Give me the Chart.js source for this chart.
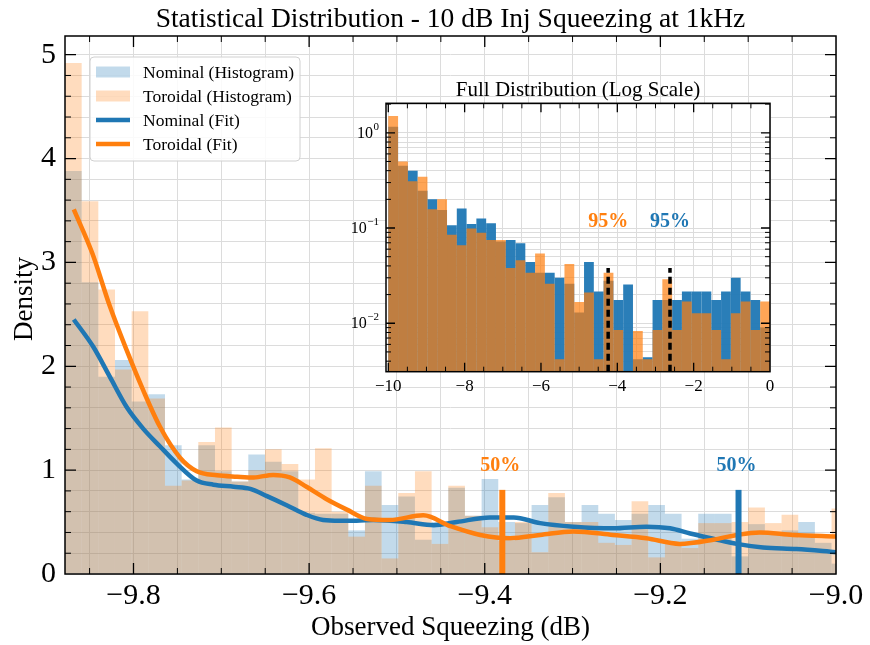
<!DOCTYPE html>
<html><head><meta charset="utf-8">
<script src="https://cdn.jsdelivr.net/npm/chart.js@4.4.1/dist/chart.umd.min.js"></script>
<style>
html,body{margin:0;padding:0;background:#fff;}
#wrap{position:relative;width:870px;height:645px;overflow:hidden;}
#main{position:absolute;left:0;top:0;}
#inset{position:absolute;left:330px;top:70px;}
</style></head><body>
<div id="wrap">
<canvas id="main" width="870" height="645"></canvas>
<canvas id="inset" width="460" height="330"></canvas>
</div>
<script>
const FONT = '"Liberation Serif", "DejaVu Serif", serif';
const BLUE = '#1f77b4', ORANGE = '#ff7f0e';

// ---------- main (zoomed) panel ----------
const mainBinStart = -9.878;
const mainBinWidth = 0.018977;
const nominalHist = [3.88, 2.81, 1.90, 2.06, 1.66, 1.73, 1.24, 0.91, 1.24, 0.99,
  0.89, 1.15, 1.08, 0.99, 0.59, 0.58, 0.58, 0.42, 0.99, 0.665,
  0.745, 0.33, 0.50, 0.83, 0.56, 0.915, 0.50, 0.49, 0.665, 0.74,
  0.50, 0.665, 0.58, 0.52, 0.58, 0.665, 0.58, 0.34, 0.58, 0.58,
  0.17, 0.48, 0.38, 0.42, 0.50, 0.30, 0.10];
const toroidalHist = [4.92, 3.59, 2.74, 1.97, 2.53, 1.69, 0.85, 0.90, 1.27, 1.41,
  0.89, 1.00, 1.20, 1.06, 0.91, 1.21, 0.60, 0.36, 0.85, 0.15,
  0.78, 0.99, 0.29, 0.85, 0.56, 0.45, 0.32, 0.50, 0.21, 0.78,
  0.50, 0.50, 0.30, 0.28, 0.70, 0.16, 0.30, 0.25, 0.49, 0.49,
  0.50, 0.64, 0.49, 0.57, 0.35, 0.345, 0.63];

const nominalFitX = [-9.868, -9.846, -9.827, -9.808, -9.789, -9.770, -9.751, -9.728, -9.709, -9.686,
  -9.667, -9.648, -9.625, -9.603, -9.584, -9.565, -9.546, -9.527, -9.489, -9.458,
  -9.432, -9.394, -9.367, -9.337, -9.299, -9.254, -9.216, -9.189, -9.166, -9.140,
  -9.113, -9.083, -9.045, -9.0];
const nominalFitY = [2.45, 2.19, 1.90, 1.61, 1.40, 1.23, 1.066, 0.90, 0.86, 0.84,
  0.82, 0.75, 0.66, 0.57, 0.52, 0.513, 0.513, 0.52, 0.50, 0.47,
  0.50, 0.545, 0.545, 0.49, 0.456, 0.44, 0.456, 0.44, 0.39, 0.34,
  0.29, 0.255, 0.24, 0.21];
const toroidalFitX = [-9.868, -9.847, -9.827, -9.808, -9.789, -9.770, -9.747, -9.728, -9.705, -9.682,
  -9.663, -9.641, -9.622, -9.603, -9.580, -9.557, -9.534, -9.508, -9.470, -9.439,
  -9.405, -9.371, -9.337, -9.299, -9.254, -9.216, -9.178, -9.140, -9.113, -9.087,
  -9.049, -9.0];
const toroidalFitY = [3.51, 3.09, 2.58, 2.16, 1.77, 1.42, 1.12, 0.99, 0.95, 0.937,
  0.93, 0.954, 0.93, 0.84, 0.72, 0.62, 0.53, 0.52, 0.565, 0.46,
  0.376, 0.344, 0.376, 0.41, 0.376, 0.344, 0.29, 0.33, 0.376, 0.40,
  0.376, 0.36];

const median50 = { nominal: -9.111, toroidal: -9.380 };
const median50Top = 0.81;
const mainXRange = [-9.878, -9.0];
const mainYRange = [0, 5.18];

// ---------- inset (full distribution, log) ----------
const insetBinStart = -10;
const insetBinWidth = 10 / 39;
const nominalLogHist = [1.16, 0.45, 0.40, 0.246, 0.20, 0.155, 0.107, 0.16, 0.11, 0.126,
  0.112, 0.072, 0.075, 0.069, 0.044, 0.034, 0.034, 0.030, 0.026, 0.013,
  0.044, 0.0215, 0.028, 0.0176, 0.0256, 0.0042, 0.0044, 0.0176, 0.0176, 0.0176,
  0.0215, 0.0215, 0.0215, 0.0176, 0.0215, 0.030, 0.0215, 0.0176, 0.009];
const toroidalLogHist = [1.50, 0.50, 0.31, 0.345, 0.157, 0.20, 0.085, 0.066, 0.099, 0.089,
  0.075, 0.075, 0.038, 0.046, 0.034, 0.054, 0.026, 0.0042, 0.042, 0.0167,
  0.021, 0.0042, 0.034, 0.0085, null, 0.0083, 0.0042, 0.0085, 0.029, 0.0085,
  0.0169, 0.0127, 0.0127, 0.0085, 0.0042, 0.0127, 0.0169, 0.0085, 0.0169];
const p95 = { nominal: -2.62, toroidal: -4.24 };
const p95Top = 0.038;
const p95LabelY = 0.115;
const insetXRange = [-10.06, 0];
const insetYRange = [0.0031, 2.04];
const insetDecades = [0, -1, -2];

// ---------- helpers ----------
const isMult = (v, s) => Math.abs(v / s - Math.round(v / s)) < 1e-6;
const fmtNum = (v, d) => (v < -1e-9 ? '\u2212' : '') + Math.abs(v).toFixed(d);
const insetLogTicks = [];
[-3, -2, -1, 0].forEach(e => { for (let s = 1; s <= 9; s++) { const v = +(s * Math.pow(10, e)).toPrecision(3); if (v > insetYRange[0] && v < insetYRange[1]) insetLogTicks.push(v); } });

Chart.defaults.font.family = FONT;
Chart.defaults.color = '#000';

function tickFramePlugin(o) {
  return {
    id: 'tickFrame',
    afterDatasetsDraw(chart) {
      const { ctx, chartArea: a, scales } = chart;
      ctx.save();
      ctx.strokeStyle = '#000';
      scales.x.ticks.forEach(t => {
        const p = scales.x.getPixelForValue(t.value);
        if (p < a.left + 0.5 || p > a.right - 0.5) return;
        const mj = o.majorX(t.value);
        const L = mj ? o.major : o.minor;
        ctx.lineWidth = mj ? 1.3 : 1;
        ctx.beginPath();
        ctx.moveTo(p, a.bottom); ctx.lineTo(p, a.bottom - L);
        ctx.moveTo(p, a.top); ctx.lineTo(p, a.top + L);
        ctx.stroke();
      });
      scales.y.ticks.forEach(t => {
        const p = scales.y.getPixelForValue(t.value);
        if (p < a.top + 0.5 || p > a.bottom - 0.5) return;
        const mj = o.majorY(t.value);
        const L = mj ? o.major : o.minor;
        ctx.lineWidth = mj ? 1.3 : 1;
        ctx.beginPath();
        ctx.moveTo(a.left, p); ctx.lineTo(a.left + L, p);
        ctx.moveTo(a.right, p); ctx.lineTo(a.right - L, p);
        ctx.stroke();
      });
      ctx.lineWidth = o.frame;
      ctx.strokeRect(a.left, a.top, a.right - a.left, a.bottom - a.top);
      ctx.restore();
    }
  };
}

// ---------- main chart ----------
const mainCenters = nominalHist.map((_, i) => mainBinStart + (i + 0.5) * mainBinWidth);
const HIST_ALPHA = 0.27;
const mainDatasets = [
  { type: 'line', label: 'nominal50', data: [{ x: median50.nominal, y: 0 }, { x: median50.nominal, y: median50Top }],
    borderColor: BLUE, borderWidth: 6, pointRadius: 0, borderCapStyle: 'butt', order: 0 },
  { type: 'line', label: 'toroidal50', data: [{ x: median50.toroidal, y: 0 }, { x: median50.toroidal, y: median50Top }],
    borderColor: ORANGE, borderWidth: 6, pointRadius: 0, borderCapStyle: 'butt', order: 1 },
  { type: 'line', label: 'Toroidal (Fit)', legendKind: 'line', data: toroidalFitX.map((x, i) => ({ x, y: toroidalFitY[i] })),
    borderColor: ORANGE, borderWidth: 4.5, pointRadius: 0, cubicInterpolationMode: 'monotone', order: 2 },
  { type: 'line', label: 'Nominal (Fit)', legendKind: 'line', data: nominalFitX.map((x, i) => ({ x, y: nominalFitY[i] })),
    borderColor: BLUE, borderWidth: 4.5, pointRadius: 0, cubicInterpolationMode: 'monotone', order: 3 },
  { type: 'bar', label: 'Toroidal (Histogram)', legendKind: 'patch', data: mainCenters.map((x, i) => ({ x, y: toroidalHist[i] })),
    backgroundColor: `rgba(255,127,14,${HIST_ALPHA})`, order: 4 },
  { type: 'bar', label: 'Nominal (Histogram)', legendKind: 'patch', data: mainCenters.map((x, i) => ({ x, y: nominalHist[i] })),
    backgroundColor: `rgba(31,119,180,${HIST_ALPHA})`, order: 5 }
];
const legendOrder = ['Nominal (Histogram)', 'Toroidal (Histogram)', 'Nominal (Fit)', 'Toroidal (Fit)'];

const mainDecor = {
  id: 'mainDecor',
  afterDraw(chart) {
    const { ctx, chartArea: a, scales } = chart;
    ctx.save();
    ctx.fillStyle = '#000';
    ctx.font = `27.5px ${FONT}`;
    ctx.textAlign = 'center'; ctx.textBaseline = 'middle';
    ctx.fillText('Statistical Distribution - 10 dB Inj Squeezing at 1kHz', (a.left + a.right) / 2, 20);
    ctx.font = `27px ${FONT}`;
    ctx.fillText('Observed Squeezing (dB)', (a.left + a.right) / 2, 628);
    ctx.save();
    ctx.translate(25, (a.top + a.bottom) / 2 - 6);
    ctx.rotate(-Math.PI / 2);
    ctx.font = `27px ${FONT}`;
    ctx.fillText('Density', 0, 0);
    ctx.restore();
    ctx.font = `bold 20px ${FONT}`;
    ctx.textBaseline = 'alphabetic';
    const yLab = scales.y.getPixelForValue(median50Top) - 19;
    ctx.fillStyle = ORANGE;
    ctx.fillText('50%', scales.x.getPixelForValue(median50.toroidal) - 2, yLab);
    ctx.fillStyle = BLUE;
    ctx.fillText('50%', scales.x.getPixelForValue(median50.nominal) - 2, yLab);
    const lx = 90, ly = 57, lw = 210, lh = 104;
    ctx.beginPath();
    ctx.roundRect(lx, ly, lw, lh, 4);
    ctx.fillStyle = 'rgba(255,255,255,0.85)';
    ctx.fill();
    ctx.strokeStyle = '#d0d0d0'; ctx.lineWidth = 1;
    ctx.stroke();
    const dsByLabel = {};
    chart.data.datasets.forEach(d => { dsByLabel[d.label] = d; });
    ctx.font = `17.5px ${FONT}`;
    ctx.textAlign = 'left'; ctx.textBaseline = 'middle';
    legendOrder.forEach((lab, i) => {
      const d = dsByLabel[lab];
      const cy = 72 + i * 24;
      if (d.legendKind === 'patch') {
        ctx.fillStyle = d.backgroundColor;
        ctx.fillRect(96, cy - 5.5, 34, 11);
      } else {
        ctx.strokeStyle = d.borderColor; ctx.lineWidth = 4.5;
        ctx.beginPath(); ctx.moveTo(96, cy); ctx.lineTo(130, cy); ctx.stroke();
      }
      ctx.fillStyle = '#000';
      ctx.fillText(lab, 143, cy + 1);
    });
    ctx.restore();
  }
};

new Chart(document.getElementById('main'), {
  type: 'bar',
  data: { datasets: mainDatasets },
  options: {
    responsive: false, animation: false, devicePixelRatio: 1,
    layout: { padding: { left: 0, right: 34, top: 36, bottom: 0 } },
    datasets: { bar: { grouped: false, barPercentage: 1, categoryPercentage: 1, borderWidth: 0, inflateAmount: 0 } },
    plugins: { legend: { display: false }, tooltip: { enabled: false }, title: { display: false } },
    scales: {
      x: {
        type: 'linear', min: mainXRange[0], max: mainXRange[1], offset: false,
        afterFit: s => { s.height = 71; },
        ticks: { stepSize: 0.05, includeBounds: false, autoSkip: false, maxRotation: 0, minRotation: 0, padding: 4,
          font: { family: FONT, size: 30 }, color: '#000',
          callback: v => isMult(v, 0.2) ? fmtNum(v, 1) : '' },
        grid: { color: '#dcdcdc', lineWidth: 1, drawTicks: false, offset: false },
        border: { display: false }
      },
      y: {
        type: 'linear', min: mainYRange[0], max: mainYRange[1],
        afterFit: s => { s.width = 65; },
        ticks: { stepSize: 0.2, includeBounds: false, autoSkip: false, padding: 9,
          font: { family: FONT, size: 30 }, color: '#000',
          callback: v => isMult(v, 1) ? String(Math.round(v)) : '' },
        grid: { color: '#dcdcdc', lineWidth: 1, drawTicks: false },
        border: { display: false }
      }
    }
  },
  plugins: [tickFramePlugin({ majorX: v => isMult(v, 0.2), majorY: v => isMult(v, 1), major: 11, minor: 6, frame: 1.5 }), mainDecor]
});

// ---------- inset chart ----------
const insetCenters = nominalLogHist.map((_, i) => insetBinStart + (i + 0.5) * insetBinWidth);
const insetDecor = {
  id: 'insetDecor',
  beforeDraw(chart) {
    const { ctx, chartArea: a } = chart;
    ctx.save();
    ctx.fillStyle = '#fff';
    ctx.fillRect(a.left, a.top, a.right - a.left, a.bottom - a.top);
    ctx.restore();
  },
  afterDraw(chart) {
    const { ctx, chartArea: a, scales } = chart;
    ctx.save();
    ctx.fillStyle = '#000';
    ctx.font = `21px ${FONT}`;
    ctx.textAlign = 'center'; ctx.textBaseline = 'middle';
    ctx.fillText('Full Distribution (Log Scale)', (a.left + a.right) / 2, 20);
    insetDecades.forEach(e => {
      const y = scales.y.getPixelForValue(Math.pow(10, e));
      const sup = e === 0 ? '0' : '\u2212' + Math.abs(e);
      ctx.textAlign = 'right';
      ctx.font = `11px ${FONT}`;
      const sw = ctx.measureText(sup).width;
      const xr = a.left - 7;
      ctx.fillText(sup, xr, y - 6);
      ctx.font = `16px ${FONT}`;
      ctx.fillText('10', xr - sw - 0.5, y + 1);
    });
    ctx.font = `bold 20px ${FONT}`;
    ctx.textAlign = 'center';
    const yl = scales.y.getPixelForValue(p95LabelY);
    ctx.fillStyle = ORANGE;
    ctx.fillText('95%', scales.x.getPixelForValue(p95.toroidal), yl);
    ctx.fillStyle = BLUE;
    ctx.fillText('95%', scales.x.getPixelForValue(p95.nominal), yl);
    ctx.restore();
  }
};

new Chart(document.getElementById('inset'), {
  type: 'bar',
  data: {
    datasets: [
      { type: 'line', data: [{ x: p95.toroidal, y: insetYRange[0] }, { x: p95.toroidal, y: p95Top }],
        borderColor: '#000', borderWidth: 3.5, borderDash: [7, 4], pointRadius: 0, borderCapStyle: 'butt', order: 0 },
      { type: 'line', data: [{ x: p95.nominal, y: insetYRange[0] }, { x: p95.nominal, y: p95Top }],
        borderColor: '#000', borderWidth: 3.5, borderDash: [7, 4], pointRadius: 0, borderCapStyle: 'butt', order: 1 },
      { type: 'bar', data: insetCenters.map((x, i) => ({ x, y: toroidalLogHist[i] })), backgroundColor: 'rgba(255,127,14,0.7)', order: 2 },
      { type: 'bar', data: insetCenters.map((x, i) => ({ x, y: nominalLogHist[i] })), backgroundColor: 'rgba(31,119,180,0.95)', order: 3 }
    ]
  },
  options: {
    responsive: false, animation: false, devicePixelRatio: 1,
    layout: { padding: { left: 0, right: 20, top: 33.3, bottom: 0 } },
    datasets: { bar: { grouped: false, barPercentage: 1, categoryPercentage: 1, borderWidth: 0, inflateAmount: 0 } },
    plugins: { legend: { display: false }, tooltip: { enabled: false }, title: { display: false } },
    scales: {
      x: {
        type: 'linear', min: insetXRange[0], max: insetXRange[1], offset: false,
        afterFit: s => { s.height = 28.3; },
        ticks: { stepSize: 0.5, includeBounds: false, autoSkip: false, maxRotation: 0, minRotation: 0, padding: 5,
          font: { family: FONT, size: 17 }, color: '#000',
          callback: v => isMult(v, 2) ? fmtNum(v, 0) : '' },
        grid: { color: '#dcdcdc', lineWidth: 1, drawTicks: false, offset: false },
        border: { display: false }
      },
      y: {
        type: 'logarithmic', min: insetYRange[0], max: insetYRange[1],
        afterFit: s => { s.width = 56; },
        afterBuildTicks: s => { s.ticks = insetLogTicks.map(v => ({ value: v })); },
        ticks: { autoSkip: false, callback: () => '' },
        grid: { color: '#dcdcdc', lineWidth: 1, drawTicks: false },
        border: { display: false }
      }
    }
  },
  plugins: [tickFramePlugin({ majorX: v => isMult(v, 2), majorY: v => Math.abs(Math.log10(v) - Math.round(Math.log10(v))) < 1e-6, major: 9, minor: 5, frame: 1.5 }), insetDecor]
});
</script>
</body></html>
